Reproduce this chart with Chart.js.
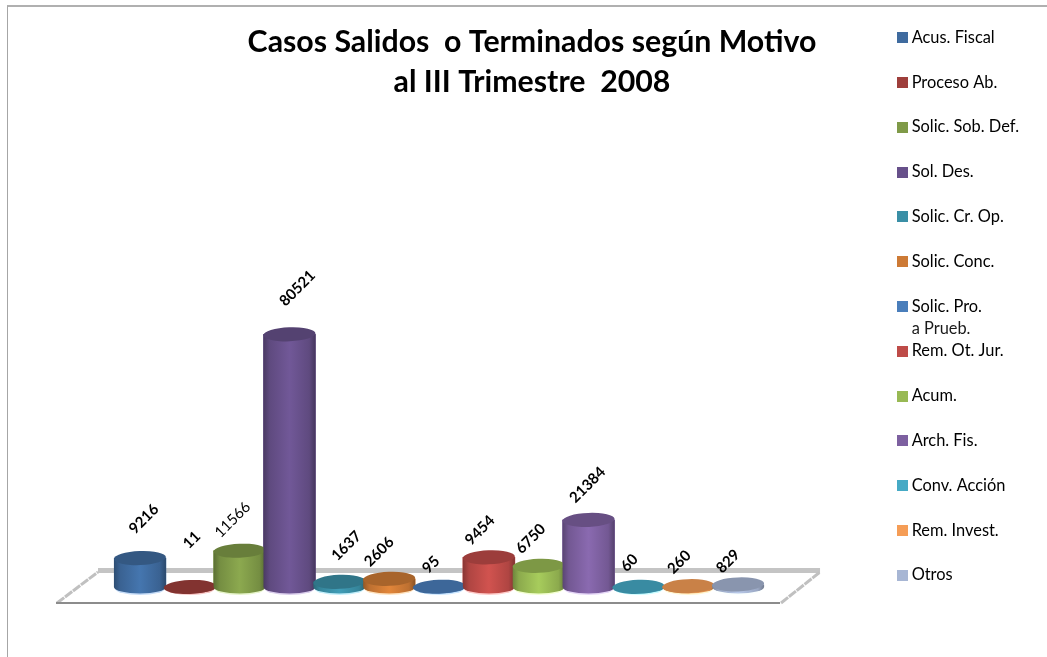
<!DOCTYPE html>
<html><head><meta charset="utf-8">
<script src="https://cdn.jsdelivr.net/npm/chart.js@4"></script>
<style>
html,body{margin:0;padding:0;background:#fff;overflow:hidden}
#frame{position:absolute;left:7px;top:5px;width:1040px;height:652px;border-left:1px solid #a6a6a6;border-top:2px solid #b0b0b0;box-sizing:border-box}
#wrap{position:absolute;left:8px;top:6px;width:1039px;height:651px}
</style></head><body>
<div id="frame"></div>
<div id="wrap"><canvas id="c" width="1039" height="651"></canvas></div>
<script>
const titleLines = ['Casos Salidos  o Terminados según Motivo', 'al III Trimestre  2008'];
const categories = ['Acus. Fiscal','Proceso Ab.','Solic. Sob. Def.','Sol. Des.','Solic. Cr. Op.','Solic. Conc.',['Solic. Pro.','a Prueb.'],'Rem. Ot. Jur.','Acum.','Arch. Fis.','Conv. Acción','Rem. Invest.','Otros'];
const values = [9216,11,11566,80521,1637,2606,95,9454,6750,21384,60,260,829];
const colours = ['#3f6b9f','#9e3e3b','#7f9a48','#67508a','#3a8fa6','#cd7a35','#4a7ebb','#be4b48','#98b954','#7d60a0','#46aac5','#f59d56','#a7b6d4'];
const labelNudgeX = [4,2,-7,8,7,-10,-8,-9,-8,-1,-9,-9,-10];
const labelNudgeY = [-39,-47,-31,-46,-36,-27,-22,-27,-27,-35,-24,-24,-23];
const lightLabels = [2];

function shade(hex, f){
  const n = parseInt(hex.slice(1),16);
  const ch = s => Math.max(0,Math.min(255,Math.round(((n>>s)&255)*f)));
  return `rgb(${ch(16)},${ch(8)},${ch(0)})`;
}
function swatch(col){
  const s = document.createElement('canvas');
  s.width = 11; s.height = 11;
  const x = s.getContext('2d');
  x.fillStyle = col; x.fillRect(0,0,11,11);
  return s;
}
const FONT = 'Lato, "Open Sans", sans-serif';
const RX_RATIO = 0.5, RY = 7, TILT = -0.04;

const decor = {
  id:'decor',
  afterLayout(c){
    const t = c.titleBlock;
    const w = t.right - t.left;
    t.left = 524 - w/2; t.right = 524 + w/2;
    c.legend.top -= 5;
  },
  beforeDatasetsDraw(c){
    const {ctx, chartArea:a} = c;
    const bot = a.bottom, L = a.left, R = a.right;
    ctx.save();
    ctx.fillStyle='#c4c4c4';
    ctx.fillRect(L-17, bot-19, (R+57)-(L-17), 5);
    ctx.strokeStyle='#c0c0c0'; ctx.lineWidth=3; ctx.setLineDash([9,1]);
    ctx.beginPath(); ctx.moveTo(L-58,bot+16); ctx.lineTo(L-17,bot-15);
    ctx.moveTo(R+18,bot+16); ctx.lineTo(R+57,bot-15); ctx.stroke();
    ctx.setLineDash([]);
    ctx.fillStyle='#8c8c8c';
    ctx.fillRect(L-59, bot+15, (R+17)-(L-59), 2);
    ctx.restore();
  },
  afterDatasetsDraw(c){
    const {ctx} = c;
    const meta = c.getDatasetMeta(0);
    ctx.save();
    meta.data.forEach((el,i)=>{
      const col = colours[i], x = el.x, top = el.y, base = el.base, rx = el.width*RX_RATIO;
      const g = ctx.createLinearGradient(x-rx,0,x+rx,0);
      g.addColorStop(0, shade(col,.72));
      g.addColorStop(.12, shade(col,.92));
      g.addColorStop(.5, shade(col,1.1));
      g.addColorStop(.88, shade(col,.92));
      g.addColorStop(1, shade(col,.68));
      ctx.fillStyle = shade(col,1.45);
      ctx.globalAlpha=.35;
      ctx.beginPath(); ctx.ellipse(x,base+1.5,rx-1,RY-.5,0,0,Math.PI*2); ctx.fill();
      ctx.globalAlpha=1;
      ctx.fillStyle = g;
      ctx.beginPath();
      ctx.moveTo(x-rx,top); ctx.lineTo(x+rx,top); ctx.lineTo(x+rx,base);
      ctx.ellipse(x,base,rx,RY-.5,0,0,Math.PI);
      ctx.closePath(); ctx.fill();
      ctx.fillStyle = shade(col,.82);
      ctx.beginPath(); ctx.ellipse(x,top,rx,RY,TILT,0,Math.PI*2); ctx.fill();
    });
    ctx.fillStyle='#000'; ctx.textAlign='center'; ctx.textBaseline='middle';
    meta.data.forEach((el,i)=>{
      ctx.save();
      ctx.translate(el.x+labelNudgeX[i], el.y+labelNudgeY[i]);
      ctx.rotate(-Math.PI/4);
      ctx.font = (lightLabels.includes(i)?'400':'700')+' 15px '+FONT;
      ctx.fillText(String(values[i]),0,0);
      ctx.restore();
    });
    ctx.restore();
  },
  afterDraw(c){
    const {ctx} = c;
    categories.forEach((cat,i)=>{
      if(!Array.isArray(cat)) return;
      const b = c.legend.legendHitBoxes[i];
      ctx.save();
      ctx.font='400 16.4px '+FONT; ctx.fillStyle='#1a1a1a'; ctx.textBaseline='middle';
      ctx.fillText(cat[1], b.left+1+8.2, b.top+b.height/2+22);
      ctx.restore();
    });
  }
};

new Chart(document.getElementById('c'),{
  type:'bar',
  data:{
    labels:categories.map(c=>Array.isArray(c)?c.join(' '):c),
    datasets:[{data:values,backgroundColor:colours,borderWidth:0,barThickness:52}]
  },
  plugins:[decor],
  options:{
    responsive:false,animation:false,
    layout:{padding:{left:107,bottom:0,right:18,top:0}},
    scales:{
      x:{display:true,grid:{display:false},border:{display:false},ticks:{display:false},
        afterFit(s){s.height=70;}},
      y:{position:'right',min:0,max:152000,
        grid:{display:false},border:{display:false},ticks:{display:false},
        afterFit(s){s.width=111;}}
    },
    plugins:{
      tooltip:{enabled:false},
      title:{display:true,fullSize:false,text:titleLines,color:'#000',
        font:{family:FONT,size:30.3,weight:'700',lineHeight:1.32},
        padding:{top:16,bottom:8}},
      legend:{display:true,position:'right',align:'start',fullSize:true,
        labels:{usePointStyle:true,pointStyleWidth:1,boxHeight:11,padding:28.4,color:'#1a1a1a',
          font:{family:FONT,size:16.4},
          generateLabels(){
            return categories.map((c,i)=>({
              text:Array.isArray(c)?c[0]:c,fillStyle:colours[i],strokeStyle:colours[i],lineWidth:0,index:i,hidden:false,
              pointStyle:swatch(colours[i])
            }));
          }}}
    }
  }
});
</script>
</body></html>
